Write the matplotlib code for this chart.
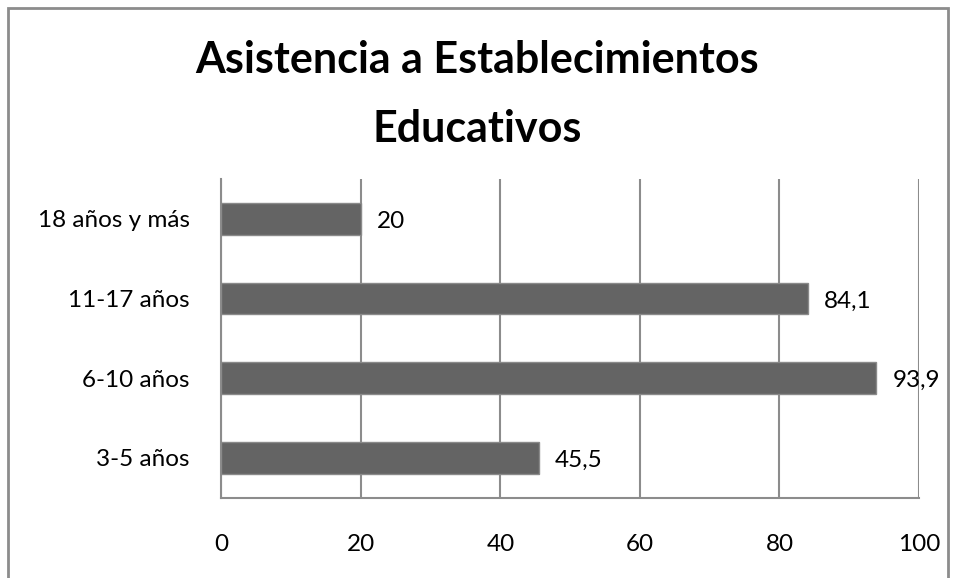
import matplotlib.pyplot as plt
from matplotlib.patches import Rectangle

categorias = ['3-5 años', '6-10 años', '11-17 años', '18 años y más']
valores = [45.5, 93.9, 84.1, 20]
etiquetas = ['45,5', '93,9', '84,1', '20']
ticks_x = [0, 20, 40, 60, 80, 100]

plt.rcParams['font.family'] = ['Lato', 'DejaVu Sans']

fig = plt.figure(figsize=(9.55, 5.78), dpi=100)
ax = fig.add_axes([0.2319, 0.1389, 0.9623 - 0.2319, 0.6903 - 0.1389])

# borde del grafico
fig.patches.append(Rectangle((8 / 955, -0.05), 940 / 955, 1 - 8 / 578 + 0.05,
                             transform=fig.transFigure, fill=False,
                             edgecolor='#8c8c8c', linewidth=2))

pos = range(len(categorias))
ax.barh(pos, valores, height=0.4, color='#646464', edgecolor='#8a8a8a', linewidth=1, zorder=3)
for i, (v, t) in enumerate(zip(valores, etiquetas)):
    ax.text(v + 2.3, i - 0.03, t, va='center', ha='left', fontsize=17.5, color='black', zorder=4)

ax.set_xlim(0, 100)
ax.set_ylim(-0.5, len(categorias) - 0.5)
ax.set_xticks(ticks_x)
ax.set_yticks(list(pos))
ax.set_yticklabels(categorias)
ax.tick_params(axis='both', length=0, labelsize=17.5)
ax.tick_params(axis='x', pad=26)
ax.tick_params(axis='y', pad=23)
ax.xaxis.grid(True, color='#8c8c8c', linewidth=1.5, zorder=0)
for s in ['top', 'right']:
    ax.spines[s].set_visible(False)
for s in ['left', 'bottom']:
    ax.spines[s].set_color('#8c8c8c')
    ax.spines[s].set_linewidth(1.5)

fig.text(0.5, 1 - 60 / 578, 'Asistencia a Establecimientos', ha='center', va='center',
         fontsize=31, fontweight='bold')
fig.text(0.5, 1 - 129 / 578, 'Educativos', ha='center', va='center',
         fontsize=31, fontweight='bold')

fig.savefig('out.png', dpi=100)
